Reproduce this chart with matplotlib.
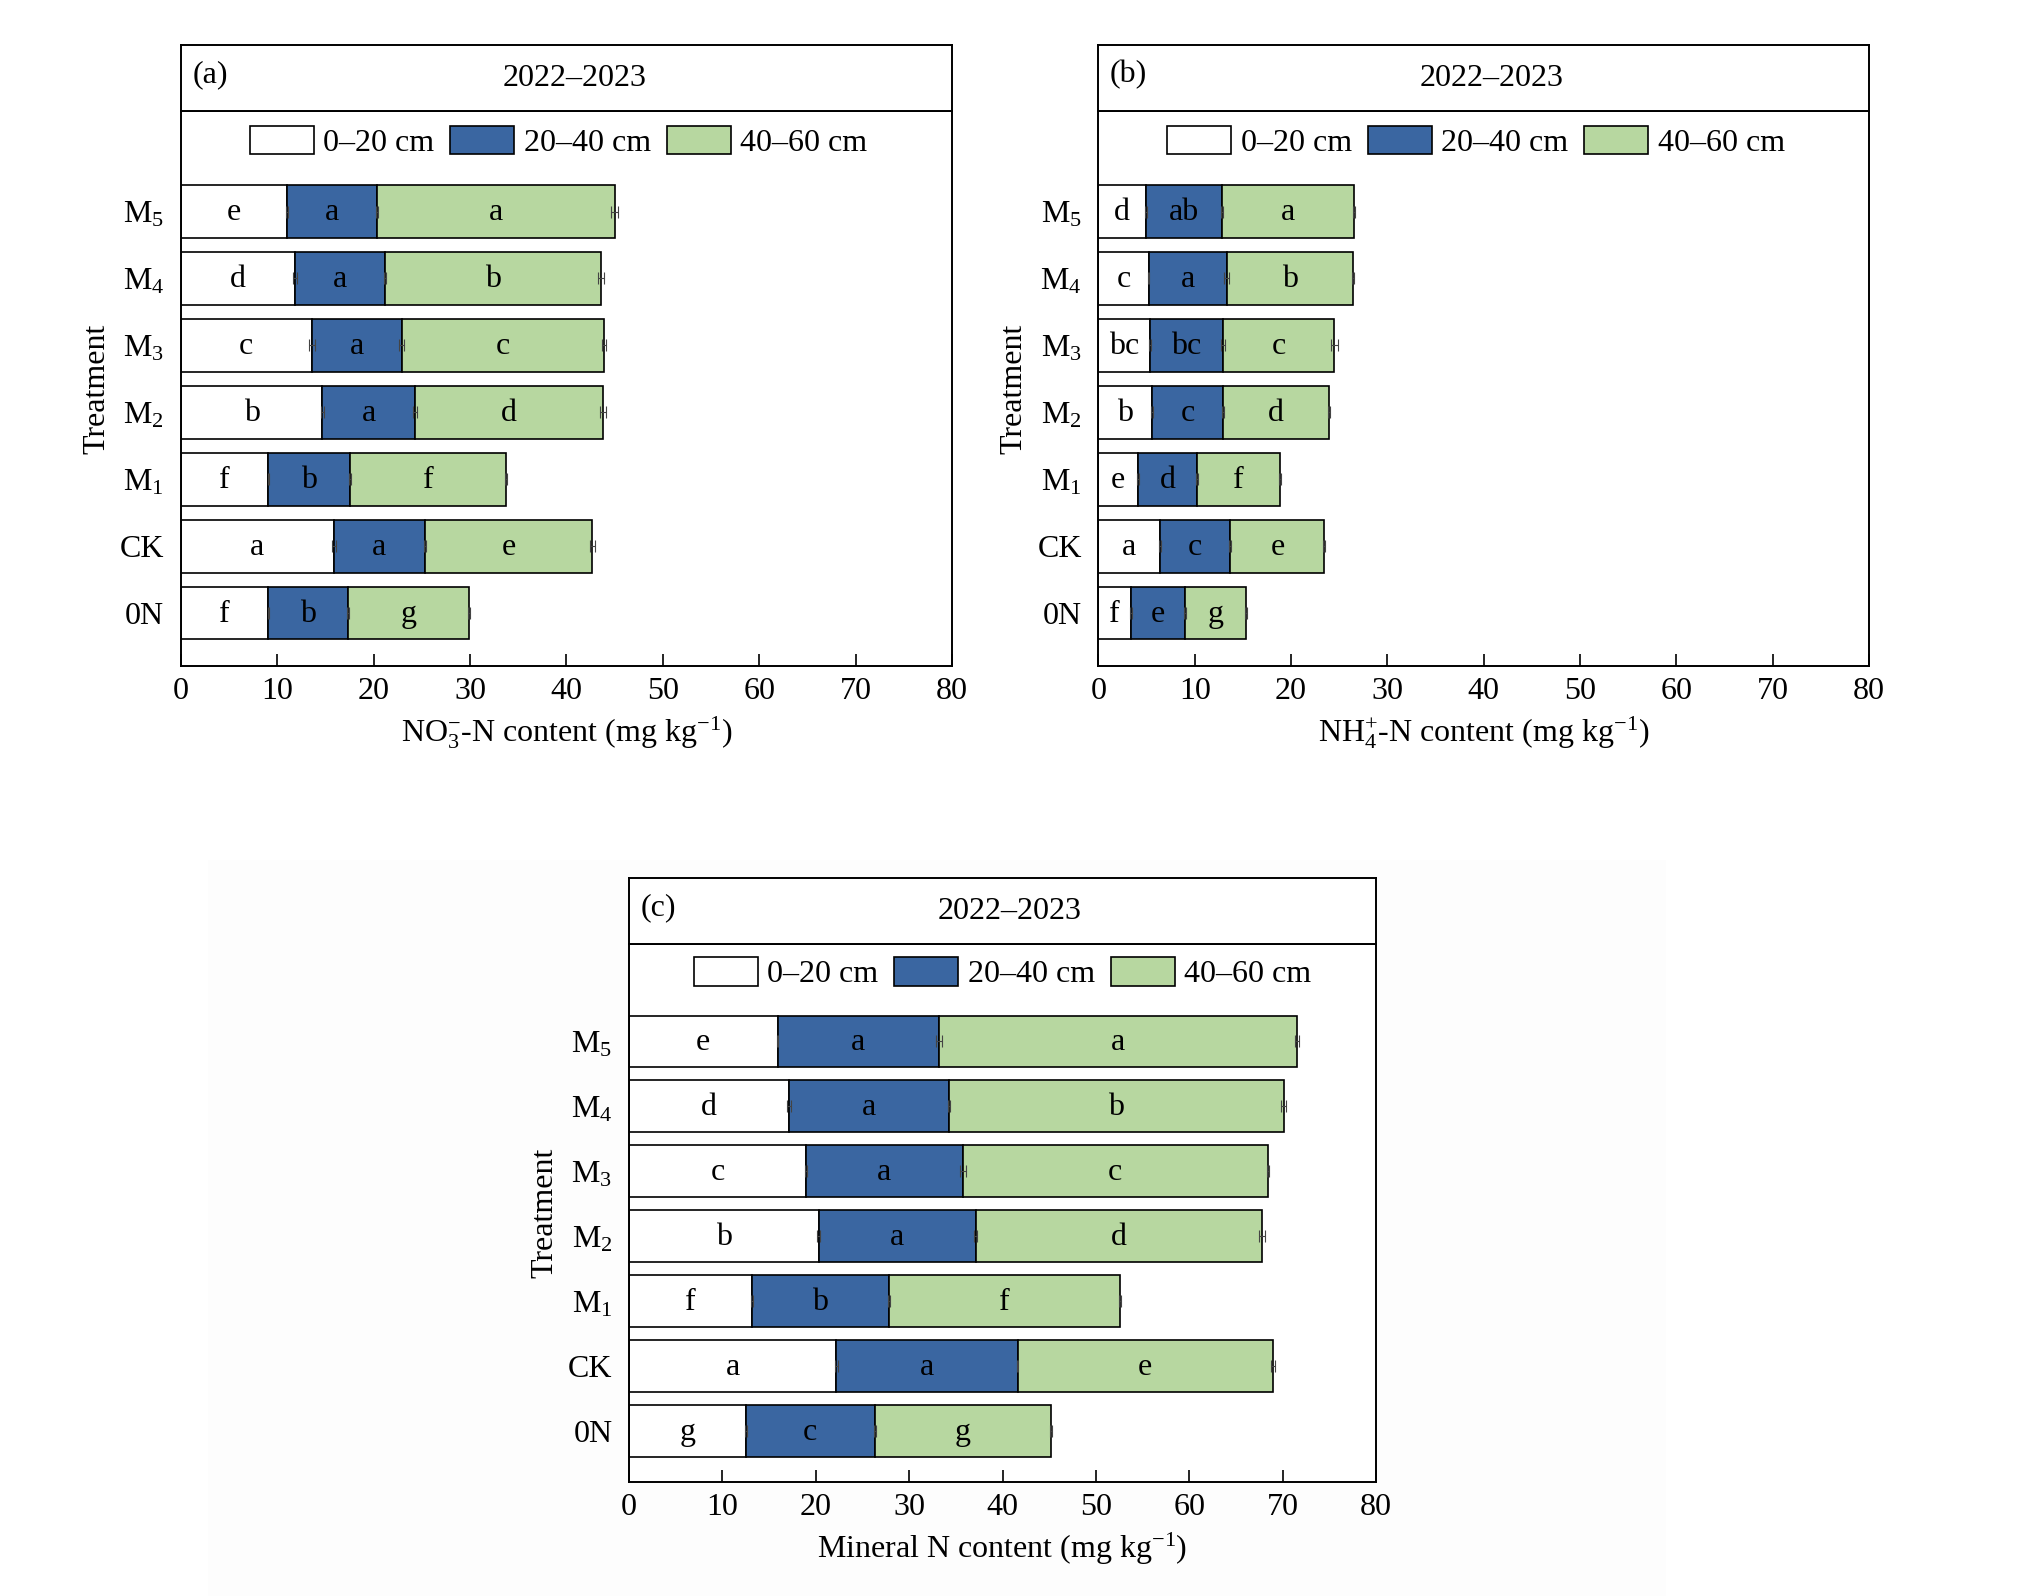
import matplotlib
matplotlib.use("Agg")
import matplotlib.pyplot as plt
from matplotlib.patches import Rectangle, Patch

plt.rcParams.update(
    {
        "font.family": "Liberation Serif",
        "mathtext.fontset": "custom",
        "mathtext.rm": "Liberation Serif",
        "mathtext.it": "Liberation Serif:italic",
        "font.size": 23,
        "axes.linewidth": 1.4,
    }
)

# Treatments, bottom to top
TREATMENTS = ["0N", "CK", "M$_1$", "M$_2$", "M$_3$", "M$_4$", "M$_5$"]
LAYERS = ["0–20 cm", "20–40 cm", "40–60 cm"]
COLORS = ["#ffffff", "#3a66a1", "#b7d7a0"]

# (a) NO3- -N content by layer
NO3_0_20 = [9.1, 15.9, 9.1, 14.7, 13.6, 11.85, 11.0]
NO3_20_40 = [8.2, 9.4, 8.5, 9.6, 9.3, 9.3, 9.4]
NO3_40_60 = [12.6, 17.4, 16.1, 19.5, 21.0, 22.45, 24.6]
NO3_ERR_0_20 = [0.1, 0.2, 0.1, 0.2, 0.3, 0.2, 0.1]
NO3_ERR_20_40 = [0.1, 0.1, 0.1, 0.2, 0.3, 0.1, 0.1]
NO3_ERR_40_60 = [0.1, 0.3, 0.1, 0.3, 0.2, 0.3, 0.4]
NO3_LET_0_20 = ["f", "a", "f", "b", "c", "d", "e"]
NO3_LET_20_40 = ["b", "a", "b", "a", "a", "a", "a"]
NO3_LET_40_60 = ["g", "e", "f", "d", "c", "b", "a"]

# (b) NH4+ -N content by layer
NH4_0_20 = [3.4, 6.4, 4.1, 5.6, 5.4, 5.2, 4.9]
NH4_20_40 = [5.6, 7.3, 6.15, 7.3, 7.5, 8.1, 7.9]
NH4_40_60 = [6.3, 9.75, 8.55, 11.0, 11.6, 13.1, 13.7]
NH4_ERR_0_20 = [0.1, 0.1, 0.1, 0.1, 0.1, 0.1, 0.1]
NH4_ERR_20_40 = [0.1, 0.1, 0.1, 0.1, 0.2, 0.3, 0.1]
NH4_ERR_40_60 = [0.1, 0.1, 0.1, 0.1, 0.4, 0.1, 0.1]
NH4_LET_0_20 = ["f", "a", "e", "b", "bc", "c", "d"]
NH4_LET_20_40 = ["e", "c", "d", "c", "bc", "a", "ab"]
NH4_LET_40_60 = ["g", "e", "f", "d", "c", "b", "a"]

# (c) Mineral N content by layer
MIN_0_20 = [12.5, 22.2, 13.2, 20.3, 18.95, 17.1, 15.9]
MIN_20_40 = [13.8, 19.4, 14.6, 16.8, 16.8, 17.2, 17.3]
MIN_40_60 = [18.9, 27.35, 24.8, 30.7, 32.65, 35.8, 38.3]
MIN_ERR_0_20 = [0.1, 0.2, 0.1, 0.2, 0.1, 0.2, 0.1]
MIN_ERR_20_40 = [0.1, 0.1, 0.1, 0.2, 0.3, 0.1, 0.3]
MIN_ERR_40_60 = [0.1, 0.2, 0.1, 0.3, 0.1, 0.3, 0.2]
MIN_LET_0_20 = ["g", "a", "f", "b", "c", "d", "e"]
MIN_LET_20_40 = ["c", "a", "b", "a", "a", "a", "a"]
MIN_LET_40_60 = ["g", "e", "f", "d", "c", "b", "a"]

YEAR = "2022–2023"


def draw_panel(fig, main_rect, title_h, tag, layers, errors, letters, xlabel, leg_x=0.49):
    ax = fig.add_axes(main_rect)
    left, bottom, width, height = main_rect
    tax = fig.add_axes([left, bottom + height, width, title_h])
    tax.set_xticks([])
    tax.set_yticks([])
    tax.text(0.015, 0.55, tag, transform=tax.transAxes, ha="left", va="center")
    tax.text(0.51, 0.5, YEAR, transform=tax.transAxes, ha="center", va="center")

    ypos = list(range(len(TREATMENTS)))
    base = [0.0] * len(TREATMENTS)
    for vals, errs, lets, color, lab in zip(layers, errors, letters, COLORS, LAYERS):
        ax.barh(ypos, vals, left=base, height=0.79, color=color,
                edgecolor="black", linewidth=1.2, label=lab, zorder=2)
        ends = [b + v for b, v in zip(base, vals)]
        ax.errorbar(ends, ypos, xerr=errs, fmt="none", ecolor="#444444",
                    elinewidth=0.8, capsize=4, capthick=0.8, zorder=3)
        for y, b, v, t in zip(ypos, base, vals, lets):
            ax.text(b + v / 2, y - 0.02, t, ha="center", va="center", zorder=4)
        base = ends

    ax.set_xlim(0, 80)
    ax.set_ylim(-0.79, 7.5)
    ax.set_xticks(range(0, 81, 10))
    ax.set_yticks(ypos)
    ax.set_yticklabels(TREATMENTS)
    ax.tick_params(axis="x", direction="in", length=9, width=1.2, pad=8)
    ax.tick_params(axis="y", length=0, pad=12)
    ax.set_xlabel(xlabel, labelpad=6)
    ax.set_ylabel("Treatment", labelpad=6)

    handles = [Patch(facecolor=c, edgecolor="black", linewidth=1.2) for c in COLORS]
    ax.legend(handles, LAYERS, loc="center", bbox_to_anchor=(leg_x, 0.945),
              ncol=3, frameon=False, handlelength=2.0, handleheight=1.0,
              handletextpad=0.3, columnspacing=0.5, borderaxespad=0)
    return ax


fig = plt.figure(figsize=(20.24, 15.96), dpi=100)

# faint background behind panel (c)
fig.add_artist(Rectangle((0.103, 0.0), 0.72, 0.461, transform=fig.transFigure,
                         facecolor="#fdfdfd", edgecolor="none", zorder=-5))

draw_panel(
    fig, [0.0893, 0.5828, 0.3811, 0.3475], 0.0415, "(a)",
    [NO3_0_20, NO3_20_40, NO3_40_60],
    [NO3_ERR_0_20, NO3_ERR_20_40, NO3_ERR_40_60],
    [NO3_LET_0_20, NO3_LET_20_40, NO3_LET_40_60],
    "NO$_3^{-}$-N content (mg kg$^{-1}$)",
)
draw_panel(
    fig, [0.5427, 0.5828, 0.3808, 0.3475], 0.0415, "(b)",
    [NH4_0_20, NH4_20_40, NH4_40_60],
    [NH4_ERR_0_20, NH4_ERR_20_40, NH4_ERR_40_60],
    [NH4_LET_0_20, NH4_LET_20_40, NH4_LET_40_60],
    "NH$_4^{+}$-N content (mg kg$^{-1}$)",
)
draw_panel(
    fig, [0.3108, 0.0712, 0.3691, 0.3375], 0.0409, "(c)",
    [MIN_0_20, MIN_20_40, MIN_40_60],
    [MIN_ERR_0_20, MIN_ERR_20_40, MIN_ERR_40_60],
    [MIN_LET_0_20, MIN_LET_20_40, MIN_LET_40_60],
    "Mineral N content (mg kg$^{-1}$)",
    leg_x=0.5,
)

fig.savefig("out.png", dpi=100)
